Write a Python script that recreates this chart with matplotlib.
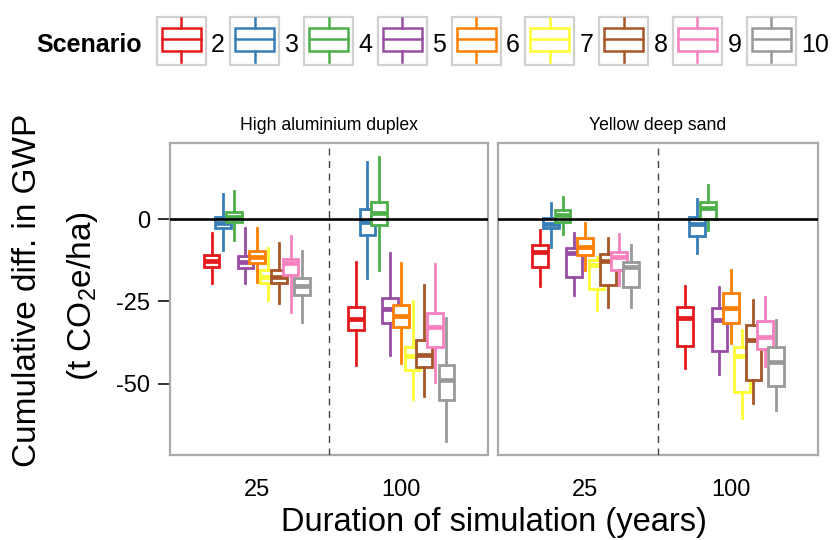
import matplotlib
matplotlib.use('Agg')
import matplotlib.pyplot as plt
from matplotlib.patches import Rectangle

plt.rcParams['font.family'] = ['Liberation Sans', 'DejaVu Sans']
plt.rcParams['mathtext.fontset'] = 'custom'
plt.rcParams['mathtext.rm'] = 'Liberation Sans'
plt.rcParams['mathtext.it'] = 'Liberation Sans'

# scenario labels and their colours (Set1)
scenarios = ['2', '3', '4', '5', '6', '7', '8', '9', '10']
colors = ['#E41A1C', '#377EB8', '#4DAF4A', '#984EA3', '#FF7F00',
          '#FFFF33', '#A65628', '#F781BF', '#999999']

durations = ['25', '100']
soils = ['High aluminium duplex', 'Yellow deep sand']

# box stats per scenario: (whisker low, q1, median, q3, whisker high)
had_25 = [(-19.4, -14.5, -12.7, -10.9, -4.2), (-9.4, -2.8, -1.3, 0.5, 7.6),
          (-6.4, -0.8, 0.7, 2.2, 8.6), (-19.3, -14.7, -12.9, -11.1, -2.8),
          (-19.0, -13.4, -11.4, -9.6, -2.8), (-24.5, -19.5, -17.5, -15.5, -8.9),
          (-25.4, -19.5, -17.5, -15.3, -7.2), (-28.1, -17.0, -13.4, -12.2, -5.2),
          (-31.1, -23.0, -20.3, -18.0, -9.6)]
had_100 = [(-44.2, -33.6, -30.4, -26.8, -12.9), (-18.0, -4.8, -0.8, 3.2, 17.4),
           (-15.5, -1.8, 1.9, 5.2, 18.7), (-41.2, -31.4, -27.4, -24.0, -10.2),
           (-43.7, -32.6, -29.4, -26.1, -13.2), (-54.6, -45.8, -41.7, -38.7, -25.0),
           (-53.6, -44.8, -41.2, -36.7, -20.0), (-49.3, -38.7, -32.6, -28.4, -13.7),
           (-67.5, -54.8, -48.8, -44.2, -30.1)]
yds_25 = [(-20.3, -14.5, -9.9, -7.9, -3.3), (-8.4, -2.8, -1.5, 0.2, 4.8),
          (-4.5, -0.8, 1.2, 2.7, 6.6), (-23.0, -17.5, -10.2, -8.9, -4.1),
          (-15.5, -10.9, -8.4, -5.8, -1.1), (-27.6, -21.3, -13.9, -12.4, -11.4),
          (-26.6, -20.0, -12.6, -10.6, -5.6), (-20.0, -15.5, -11.4, -9.9, -4.5),
          (-26.6, -20.7, -14.5, -12.9, -7.9)]
yds_100 = [(-45.2, -38.5, -30.1, -26.8, -20.3), (-10.2, -5.2, -1.5, 0.5, 6.1),
           (-3.3, -0.1, 3.4, 5.2, 10.3), (-47.0, -39.9, -30.6, -27.1, -20.7),
           (-37.7, -31.4, -27.1, -22.5, -15.3), (-60.4, -52.6, -41.7, -38.7, -33.6),
           (-55.9, -48.8, -36.7, -32.1, -24.7), (-44.7, -39.5, -35.7, -30.8, -23.7),
           (-57.9, -50.6, -43.5, -38.9, -30.6)]

y_ticks = [0, -25, -50]

W, H = 832, 540
fig = plt.figure(figsize=(W / 100, H / 100), dpi=100)

panel_boxes = [(170, 318), (498, 320)]
panel_data = [[had_25, had_100], [yds_25, yds_100]]
dodge = 0.078
bw = 0.108

axes = []
for p, (left, width) in enumerate(panel_boxes):
    ax = fig.add_axes([left / W, 85 / H, width / W, 312 / H])
    axes.append(ax)
    for d, group in enumerate(panel_data[p]):
        for i, (lo, q1, med, q3, hi) in enumerate(group):
            c = colors[i]
            pos = d + 1 + (i - 4) * dodge
            ax.bxp([dict(whislo=lo, q1=q1, med=med, q3=q3, whishi=hi)],
                   positions=[pos], widths=[bw], patch_artist=True,
                   showcaps=False, showfliers=False, manage_ticks=False,
                   boxprops=dict(facecolor='white', edgecolor=c, linewidth=2.0),
                   whiskerprops=dict(color=c, linewidth=2.0),
                   medianprops=dict(color=c, linewidth=3.4),
                   zorder=3 + i)
    ax.axhline(0, color='black', linewidth=1.9, zorder=30)
    ax.axvline(1.5, color='#444444', linewidth=1.0, linestyle=(0, (5, 4)), zorder=30)
    ax.set_xlim(0.4, 2.6)
    ax.set_ylim(-71.6, 23.1)
    ax.set_xticks([1, 2])
    ax.set_xticklabels(durations)
    ax.tick_params(axis='x', length=0, pad=17, labelsize=17)
    ax.set_yticks(y_ticks)
    if p == 0:
        ax.set_yticklabels([str(v) for v in y_ticks])
        ax.tick_params(axis='y', length=8.5, width=1.4, pad=6, labelsize=17,
                       color='#333333')
    else:
        ax.tick_params(axis='y', left=False, labelleft=False)
    for s in ax.spines.values():
        s.set_color('#aaaaaa')
        s.set_linewidth(1.6)
    fig.text((left + width / 2) / W, 1 - 125 / H, soils[p], ha='center',
             va='center', fontsize=12.7)

# axis titles
fig.text(494 / W, 9 / H, 'Duration of simulation (years)', ha='center',
         va='baseline', fontsize=23.5)
fig.text(28 / W, 1 - 290 / H, 'Cumulative diff. in GWP', rotation=90,
         ha='center', va='center', fontsize=24)
fig.text(83 / W, 1 - 296 / H, r'(t CO$_2$e/ha)', rotation=90,
         ha='center', va='center', fontsize=24)

# legend drawn in pixel coordinates
lg = fig.add_axes([0, 0, 1, 1], zorder=-1)
lg.set_xlim(0, W)
lg.set_ylim(H, 0)
lg.axis('off')
lg.text(36.7, 51.5, 'Scenario', fontsize=18, fontweight='bold', va='baseline')
for i, (lab, c) in enumerate(zip(scenarios, colors)):
    kx = 156.7 + i * 73.75
    lg.add_patch(Rectangle((kx, 16.7), 49, 48.3, facecolor='white',
                           edgecolor='#d0d0d0', linewidth=1.6))
    lg.add_patch(Rectangle((kx + 5, 27.7), 39, 23.3, facecolor='white',
                           edgecolor=c, linewidth=1.8))
    lg.plot([kx + 24.5, kx + 24.5], [17.7, 27.7], color=c, linewidth=1.8)
    lg.plot([kx + 24.5, kx + 24.5], [51, 61.7], color=c, linewidth=1.8)
    lg.plot([kx + 5, kx + 44], [39.3, 39.3], color=c, linewidth=1.8)
    lg.text(kx + 54.5, 51.5, lab, fontsize=18, va='baseline')

fig.savefig('out.png', dpi=100)
